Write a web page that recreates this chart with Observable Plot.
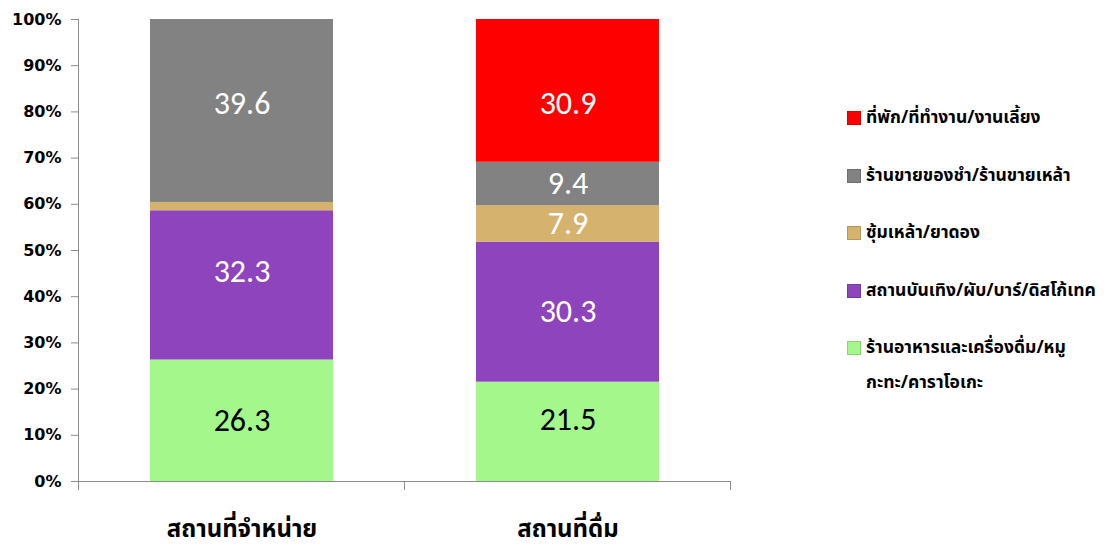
<!DOCTYPE html>
<html><head><meta charset="utf-8">
<script src="https://cdn.jsdelivr.net/npm/d3@7"></script>
<script src="https://cdn.jsdelivr.net/npm/@observablehq/plot@0.6"></script>
<style>
body{margin:0;background:#fff;font-family:Tahoma,"Noto Sans Thai","DejaVu Sans",sans-serif;}
#wrap{position:relative;width:1104px;height:548px;overflow:hidden}
#chart{position:absolute;left:0;top:0}
#chart svg{overflow:visible}
.item{position:absolute;left:847px;display:flex;align-items:flex-start;font-weight:bold;font-size:17.5px;color:#000;line-height:35px;white-space:pre-line}
.sw{width:14px;height:14px;margin-top:11px;margin-right:5px;flex:none;box-sizing:border-box;border:1px solid rgba(0,0,0,0.15)}
</style></head>
<body>
<div id="wrap"><div id="chart"></div><div id="legend"></div></div>
<script>
const categories = ["สถานที่จำหน่าย", "สถานที่ดื่ม"];
const seriesNames = [
  "ร้านอาหารและเครื่องดื่ม/หมูกะทะ/คาราโอเกะ",
  "สถานบันเทิง/ผับ/บาร์/ดิสโก้เทค",
  "ซุ้มเหล้า/ยาดอง",
  "ร้านขายของชำ/ร้านขายเหล้า",
  "ที่พัก/ที่ทำงาน/งานเลี้ยง"
];
const legendLabels = [
  "ร้านอาหารและเครื่องดื่ม/หมู\nกะทะ/คาราโอเกะ",
  "สถานบันเทิง/ผับ/บาร์/ดิสโก้เทค",
  "ซุ้มเหล้า/ยาดอง",
  "ร้านขายของชำ/ร้านขายเหล้า",
  "ที่พัก/ที่ทำงาน/งานเลี้ยง"
];
const salesValues = [26.3, 32.3, 1.8, 39.6, 0];
const drinkValues = [21.5, 30.3, 7.9, 9.4, 30.9];
const seriesColors = ["#a4f78a", "#8e44bd", "#d5b26e", "#828282", "#ff0000"];
const yTicks = [0, 0.1, 0.2, 0.3, 0.4, 0.5, 0.6, 0.7, 0.8, 0.9, 1];

// label style: vertical nudges (px) of the value labels as placed in the reference, per category × series
const labelNudge = [[0, -14, 0, -7, 0], [-12, 0, 0, 0, 13]];

const rows = [];
[salesValues, drinkValues].forEach((vals, ci) => {
  vals.forEach((v, si) => rows.push({cat: categories[ci], ci, si, series: seriesNames[si], value: v, frac: v / 100}));
});

function axisLines(index, scales) {
  const {x, y} = scales;
  const bw = x.bandwidth();
  const step = x.step ? x.step() : bw / (1 - 0.44);
  const gap = (step - bw) / 2;
  const bounds = categories.map(c => x(c) - gap).concat([x(categories[categories.length - 1]) + bw + gap]);
  const g = d3.create("svg:g").attr("stroke", "#8c8c8c").attr("stroke-width", 1).attr("shape-rendering", "crispEdges");
  const y0 = y(0), y1 = y(1), x0 = bounds[0];
  g.append("line").attr("x1", x0).attr("x2", x0).attr("y1", y1).attr("y2", y0 + 9);
  g.append("line").attr("x1", x0 - 7).attr("x2", bounds[bounds.length - 1]).attr("y1", y0).attr("y2", y0);
  bounds.slice(1).forEach(b => g.append("line").attr("x1", b).attr("x2", b).attr("y1", y0).attr("y2", y0 + 9));
  return g.node();
}

const labelFont = "Calibri, Carlito, 'Open Sans', sans-serif";

// one text mark per (nudge, colour) group; every mark stacks the full data so positions stay consistent
const labelMarks = [];
const groups = new Map();
rows.forEach(d => {
  if (d.value < 2) return;
  const dy = labelNudge[d.ci][d.si];
  const fill = d.si === 0 ? "black" : "white";
  const key = dy + "|" + fill;
  if (!groups.has(key)) groups.set(key, {dy, fill, set: new Set()});
  groups.get(key).set.add(d);
});
for (const {dy, fill, set} of groups.values()) {
  labelMarks.push(Plot.text(rows, Plot.stackY({x: "cat", y: "frac", z: "series", order: seriesNames,
    text: d => set.has(d) ? d.value.toFixed(1) : null,
    fill, dy, fontSize: 32, fontFamily: labelFont})));
}

const chart = Plot.plot({
  width: 820, height: 548,
  marginLeft: 78, marginRight: 90, marginTop: 19, marginBottom: 67,
  style: {background: "transparent", color: "#000", overflow: "visible"},
  x: {domain: categories, paddingInner: 0.44, paddingOuter: 0.22, axis: null},
  y: {domain: [0, 1], axis: null},
  color: {domain: seriesNames, range: seriesColors},
  marks: [
    Plot.barY(rows, {x: "cat", y: "frac", fill: "series", z: "series", order: seriesNames}),
    ...labelMarks,
    Plot.axisY({ticks: yTicks, tickFormat: d3.format(".0%"), tickSize: 7, tickPadding: 10,
      fontSize: 16, fontWeight: "bold", fontFamily: "Tahoma, 'DejaVu Sans', sans-serif", stroke: "#8c8c8c", label: null}),
    Plot.axisX({tickSize: 0, tickPadding: 38, fontSize: 24, fontWeight: "bold", fontFamily: "Tahoma, 'Noto Sans Thai', sans-serif", label: null}),
    axisLines
  ]
});
document.getElementById("chart").appendChild(chart);

const legend = document.getElementById("legend");
const order = [4, 3, 2, 1, 0];
order.forEach((si, i) => {
  const item = document.createElement("div");
  item.className = "item";
  item.style.top = (100 + i * 57.5) + "px";
  const sw = document.createElement("div");
  sw.className = "sw";
  sw.style.background = seriesColors[si];
  const t = document.createElement("div");
  t.textContent = legendLabels[si];
  item.appendChild(sw); item.appendChild(t);
  legend.appendChild(item);
});
</script>
</body></html>
